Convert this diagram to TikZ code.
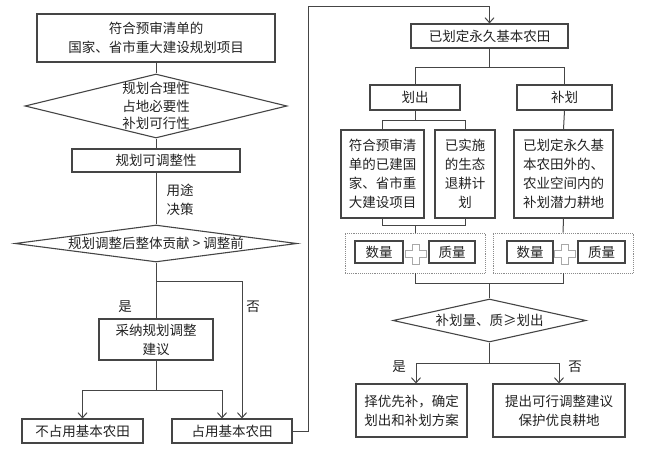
\documentclass[tikz,border=0pt]{standalone}
\usepackage{fontspec}
\setmainfont{Noto Sans CJK SC}
\usetikzlibrary{shapes.geometric,arrows.meta}
\definecolor{ln}{HTML}{454545}
\definecolor{tx}{HTML}{222222}
\definecolor{pl}{HTML}{A8A8A8}
\definecolor{dt}{HTML}{8C8C8C}
\begin{document}
\begin{tikzpicture}[x=1pt,y=-1pt,
  every node/.style={font=\fontsize{13.5}{19}\selectfont, text=tx},
  box/.style={draw=ln, line width=1.1pt, inner sep=0pt, align=center},
  dia/.style={draw=ln, line width=1.1pt, shape=diamond, inner sep=0pt},
  dbox/.style={draw=dt, line width=0.9pt, dash pattern=on 0.9pt off 1pt, inner sep=0pt},
  conn/.style={draw=ln, line width=1pt},
  arr/.style={conn, -{Straight Barb[length=5pt,width=9pt]}},
  lbl/.style={inner sep=0pt, align=center}]
\useasboundingbox (0,0) rectangle (650,452);
% ---------- left column ----------
\node[box, minimum width=238, minimum height=48] (top) at (156,38) {符合预审清单的\\国家、省市重大建设规划项目};
\node[dia, minimum width=262, minimum height=64] (d1) at (156,106) {};
\node[lbl, font=\fontsize{13.5}{17.5}\selectfont] (d1t) at (d1) {规划合理性\\占地必要性\\补划可行性};
\node[box, minimum width=168, minimum height=23] (adj) at (156,160.5) {规划可调整性};
\node[lbl] (use) at (180,200) {用途\\决策};
\node[dia, minimum width=282, minimum height=37] (d2) at (156,243.5) {};
\node[lbl] (d2t) at (d2) {规划调整后整体贡献 > 调整前};
\node[box, minimum width=114, minimum height=41] (adopt) at (156,339.5) {采纳规划调整\\建议};
\node[box, minimum width=121, minimum height=24] (notocc) at (82.5,431) {不占用基本农田};
\node[box, minimum width=120, minimum height=24] (occ) at (232,431) {占用基本农田};
\node[lbl] (yes1) at (125,307) {是};
\node[lbl] (no1) at (253,307) {否};
\coordinate (j1) at (156,281);
\coordinate (j2) at (156,390);
\coordinate (ctop) at (308,7);
\draw[conn] (top.south) -- (d1.north);
\draw[conn] (d1.south) -- (adj.north);
\draw[conn] (adj.south) -- (d2.north);
\draw[conn] (d2.south) -- (adopt.north);
\draw[arr] (j1) -| ([xshift=10pt]occ.north);
\draw[conn] (adopt.south) -- (j2);
\draw[arr] (j2) -| (notocc.north);
\draw[arr] (j2) -| ([xshift=-10pt]occ.north);
% ---------- right column ----------
\node[box, minimum width=157, minimum height=24] (base) at (489.5,36) {已划定永久基本农田};
\draw[arr] (occ.east) -| (ctop) -| (base.north);
\node[box, minimum width=90, minimum height=25] (out) at (415,97.5) {划出};
\node[box, minimum width=95, minimum height=25] (bu) at (564.5,97.5) {补划};
\node[box, minimum width=83, minimum height=88] (A) at (382.5,174) {符合预审清\\单的已建国\\家、省市重\\大建设项目};
\node[box, minimum width=60, minimum height=88] (B) at (465,174) {已实施\\的生态\\退耕计\\划};
\node[box, minimum width=99, minimum height=88] (C) at (563.5,174) {已划定永久基\\本农田外的、\\农业空间内的\\补划潜力耕地};
\node[dbox, minimum width=140, minimum height=40] (dl) at (415,253) {};
\node[dbox, minimum width=140, minimum height=40] (dr) at (563,253) {};
\node[box, minimum width=48, minimum height=22] (q1) at (379,252) {数量};
\node[box, minimum width=46, minimum height=22] (z1) at (452,252) {质量};
\node[box, minimum width=46, minimum height=22] (q2) at (530,252) {数量};
\node[box, minimum width=47, minimum height=22] (z2) at (601.5,252) {质量};
\foreach \cx in {416,565}{
  \draw[draw=pl, fill=white, line width=0.9pt]
    (\cx-3.5,244) -- (\cx+3.5,244) -- (\cx+3.5,250) -- (\cx+10.5,250) -- (\cx+10.5,257) -- (\cx+3.5,257)
    -- (\cx+3.5,264) -- (\cx-3.5,264) -- (\cx-3.5,257) -- (\cx-10.5,257) -- (\cx-10.5,250) -- (\cx-3.5,250) -- cycle;
}
\node[dia, minimum width=193, minimum height=43] (d3) at (489.5,320.5) {};
\node[lbl] (d3t) at (d3) {补划量、质≥划出};
\node[box, minimum width=111, minimum height=53] (yesb) at (411.5,410.5) {择优先补，确定\\划出和补划方案};
\node[box, minimum width=132, minimum height=53] (nob) at (559,410.5) {提出可行调整建议\\保护优良耕地};
\node[lbl] (yes2) at (399,367) {是};
\node[lbl] (no2) at (575,367) {否};
\coordinate (j3) at (489.5,67);
\coordinate (j4) at (415,120);
\coordinate (j5) at (415,225);
\coordinate (j6) at (489.5,283);
\coordinate (j7) at (489.5,363);
\draw[conn] (base.south) -- (j3);
\draw[conn] (j3) -| (out.north);
\draw[conn] (j3) -| (bu.north);
\draw[conn] (out.south) -- (j4);
\draw[conn] (j4) -| (A.north);
\draw[conn] (j4) -| (B.north);
\draw[conn] (A.south) |- (j5);
\draw[conn] (B.south) |- (j5);
\draw[conn] (j5) -- (dl.north);
\draw[conn] (bu.south) -- (C.north);
\draw[conn] (C.south) -- (dr.north);
\draw[conn] (dl.south) |- (j6);
\draw[conn] (dr.south) |- (j6);
\draw[conn] (j6) -- (d3.north);
\draw[conn] (d3.south) -- (j7);
\draw[arr] (j7) -| ([xshift=4.5pt]yesb.north);
\draw[arr] (j7) -| (nob.north);
\end{tikzpicture}
\end{document}
